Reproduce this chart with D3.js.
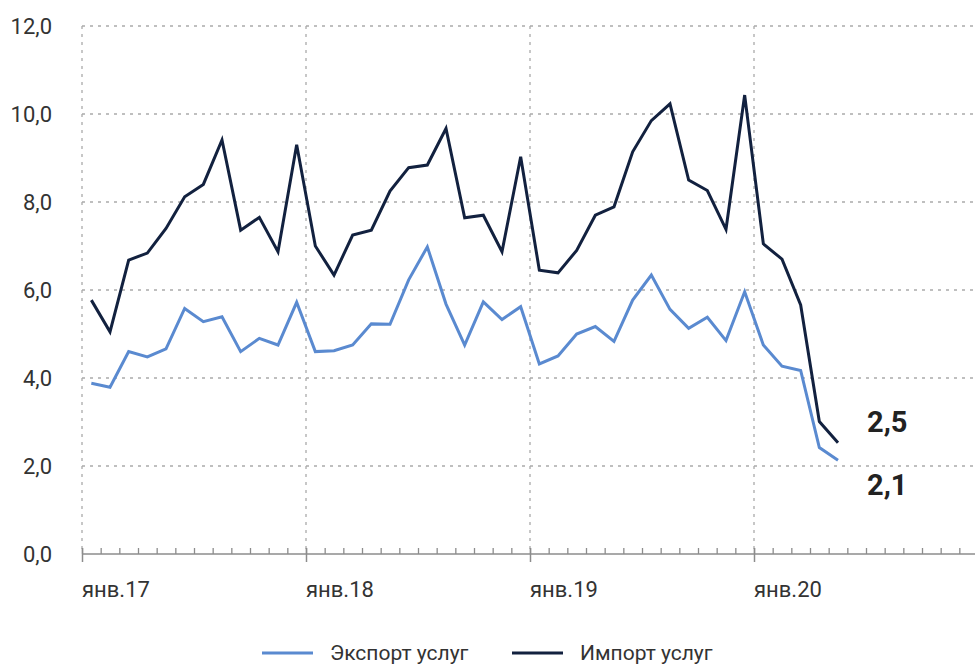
<!DOCTYPE html>
<html>
<head>
<meta charset="utf-8">
<script src="https://cdn.jsdelivr.net/npm/d3@7/dist/d3.min.js"></script>
<style>
  body { margin: 0; background: #fff; }
  svg { display: block; font-family: Roboto, "Noto Sans", sans-serif; }
</style>
</head>
<body>
<svg id="chart" width="975" height="665"></svg>
<script>
// monthly values, Jan 2017 .. May 2020, bn USD
var exportVals = [3.88, 3.79, 4.60, 4.48, 4.66, 5.58, 5.28, 5.39, 4.60, 4.90, 4.75, 5.72,
                  4.60, 4.62, 4.75, 5.23, 5.22, 6.23, 6.98, 5.68, 4.75, 5.73, 5.33, 5.62,
                  4.32, 4.50, 5.00, 5.17, 4.83, 5.77, 6.34, 5.56, 5.13, 5.38, 4.85, 5.96,
                  4.75, 4.27, 4.17, 2.42, 2.13];
var importVals = [5.77, 5.05, 6.68, 6.84, 7.40, 8.12, 8.40, 9.41, 7.36, 7.65, 6.87, 9.30,
                  7.00, 6.34, 7.25, 7.36, 8.25, 8.78, 8.84, 9.67, 7.64, 7.70, 6.87, 9.03,
                  6.45, 6.39, 6.90, 7.70, 7.89, 9.14, 9.85, 10.23, 8.50, 8.26, 7.38, 10.43,
                  7.05, 6.70, 5.66, 3.01, 2.53];
var yTicks = [0, 2, 4, 6, 8, 10, 12];
var yearStarts = [0, 12, 24, 36, 48];
var yearLabels = ["янв.17", "янв.18", "янв.19", "янв.20"];
var seriesNames = ["Экспорт услуг", "Импорт услуг"];
var seriesColors = ["#5a8ad0", "#12213f"];

var svg = d3.select("#chart");
var W = 975;

var x = d3.scaleLinear().domain([0, 48]).range([82, 978]);
var y = d3.scaleLinear().domain([0, 12]).range([554, 26]);

var ruFmt = d3.formatLocale({ decimal: ",", thousands: " ", grouping: [3], currency: ["", ""] });
var f1 = ruFmt.format(".1f");

// horizontal grid
svg.append("g").selectAll("line").data(yTicks.filter(function (d) { return d > 0; })).enter()
  .append("line")
  .attr("x1", x(0)).attr("x2", W)
  .attr("y1", function (d) { return y(d); }).attr("y2", function (d) { return y(d); })
  .attr("stroke", "#aaa").attr("stroke-width", 1.3).attr("stroke-dasharray", "3,5");

// vertical grid at years
svg.append("g").selectAll("line").data(yearStarts).enter()
  .append("line")
  .attr("x1", function (d) { return x(d); }).attr("x2", function (d) { return x(d); })
  .attr("y1", y(12)).attr("y2", y(0))
  .attr("stroke", "#aaa").attr("stroke-width", 1.3).attr("stroke-dasharray", "3,5");

// y labels
svg.append("g").selectAll("text").data(yTicks).enter()
  .append("text")
  .attr("x", 52).attr("y", function (d) { return y(d); })
  .attr("dy", "0.36em")
  .attr("text-anchor", "end")
  .attr("font-size", 22).attr("fill", "#333")
  .text(function (d) { return f1(d); });

// x axis: monthly minor ticks, yearly major ticks
var minor = svg.append("g").attr("transform", "translate(0," + y(0) + ")")
  .call(d3.axisBottom(x).tickValues(d3.range(0, 49)).tickSize(-6).tickSizeOuter(0).tickFormat(""));
minor.select(".domain").remove();
minor.selectAll("line").attr("stroke", "#8c8c8c").attr("stroke-width", 1.3);

var major = svg.append("g").attr("transform", "translate(0," + y(0) + ")")
  .call(d3.axisBottom(x).tickValues(yearStarts).tickSize(8).tickSizeOuter(0).tickFormat(""));
major.select(".domain").remove();
major.selectAll("line").attr("stroke", "#8c8c8c").attr("stroke-width", 1.5).attr("y1", -6);

svg.append("line")
  .attr("x1", x(0)).attr("x2", W).attr("y1", y(0)).attr("y2", y(0))
  .attr("stroke", "#8c8c8c").attr("stroke-width", 1.6);

svg.append("g").selectAll("text").data(yearLabels).enter()
  .append("text")
  .attr("x", function (d, i) { return x(yearStarts[i]); })
  .attr("y", y(0) + 43)
  .attr("font-size", 22).attr("fill", "#333")
  .text(function (d) { return d; });

// lines
var line = d3.line()
  .x(function (d, i) { return x(i + 0.5); })
  .y(function (d) { return y(d); });

[exportVals, importVals].forEach(function (vals, k) {
  svg.append("path")
    .datum(vals)
    .attr("fill", "none")
    .attr("stroke", seriesColors[k])
    .attr("stroke-width", 3)
    .attr("stroke-linejoin", "miter")
    .attr("d", line);
});

// end value labels
var last = exportVals.length - 1;
svg.append("text")
  .attr("x", x(last + 0.5) + 29).attr("y", y(importVals[last]) - 11)
  .attr("font-size", 29).attr("font-weight", 700).attr("fill", "#222")
  .text(f1(importVals[last]));
svg.append("text")
  .attr("x", x(last + 0.5) + 29).attr("y", y(exportVals[last]) + 35)
  .attr("font-size", 29).attr("font-weight", 700).attr("fill", "#222")
  .text(f1(exportVals[last]));

// legend
var legendX = [262, 512];
var lg = svg.append("g").selectAll("g").data(seriesNames).enter()
  .append("g")
  .attr("transform", function (d, i) { return "translate(" + legendX[i] + ",653)"; });
lg.append("line")
  .attr("x1", 0).attr("x2", 51).attr("y1", 0).attr("y2", 0)
  .attr("stroke", function (d, i) { return seriesColors[i]; })
  .attr("stroke-width", 3);
lg.append("text")
  .attr("x", 68).attr("y", 7)
  .attr("font-size", 21).attr("fill", "#333")
  .text(function (d) { return d; });
</script>
</body>
</html>
